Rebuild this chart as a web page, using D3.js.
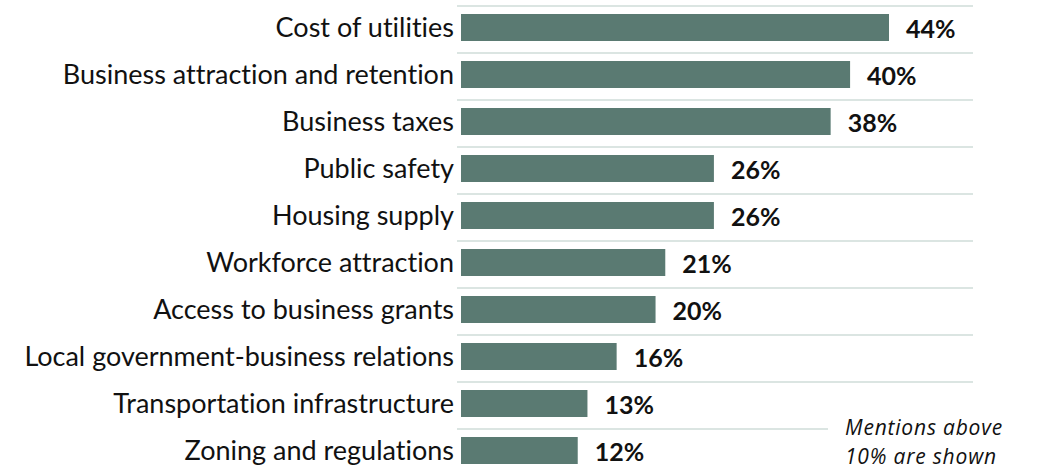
<!DOCTYPE html>
<html><head><meta charset="utf-8">
<script src="https://cdn.jsdelivr.net/npm/d3@7"></script>
<style>body{margin:0;background:#fff}svg{display:block}text{font-variant-ligatures:none;font-feature-settings:"liga" 0,"clig" 0,"dlig" 0}</style>
</head><body>
<svg id="c" width="1046" height="470"></svg>
<script>
const categories = ["Cost of utilities","Business attraction and retention","Business taxes","Public safety","Housing supply","Workforce attraction","Access to business grants","Local government-business relations","Transportation infrastructure","Zoning and regulations"];
const values = [44,40,38,26,26,21,20,16,13,12];
const noteLines = ["Mentions above","10% are shown"];

const svg = d3.select("#c");
const font = "Lato, 'Open Sans', sans-serif";
const x = d3.scaleLinear().domain([0,44]).range([461,889]);
const y = d3.scaleBand().domain(categories).range([6,476]);
const bh = 27;

// separators
svg.append("g").selectAll("line").data(categories).join("line")
  .attr("x1",457).attr("x2",973)
  .attr("y1",d=>y(d)).attr("y2",d=>y(d))
  .attr("stroke","#dbe5e2").attr("stroke-width",2);

svg.append("g").selectAll("rect").data(values).join("rect")
  .attr("x",x(0)).attr("y",(d,i)=>y(categories[i])+8)
  .attr("width",d=>x(d)-x(0)).attr("height",bh)
  .attr("fill","#5a7a72");

svg.append("g").selectAll("text").data(categories).join("text")
  .attr("x",454).attr("y",d=>y(d)+8+bh/2+9.2)
  .attr("text-anchor","end").attr("font-family",font).attr("font-size",27)
  .attr("fill","#111").text(d=>d);

svg.append("g").selectAll("text").data(values).join("text")
  .attr("x",d=>x(d)+17).attr("y",(d,i)=>y(categories[i])+8+bh/2+10.8)
  .attr("font-family",font).attr("font-size",25).attr("font-weight","bold")
  .attr("fill","#111").text(d=>d+"%");

// note with white background
svg.append("rect").attr("x",828).attr("y",412).attr("width",218).attr("height",58).attr("fill","#fff");
svg.append("g").selectAll("text").data(noteLines).join("text")
  .attr("x",845).attr("y",(d,i)=>435+i*29)
  .attr("font-family","'Open Sans', Lato, sans-serif").attr("font-size",21).attr("font-style","italic")
  .attr("letter-spacing",0.8)
  .attr("fill","#111").text(d=>d);
</script>
</body></html>
